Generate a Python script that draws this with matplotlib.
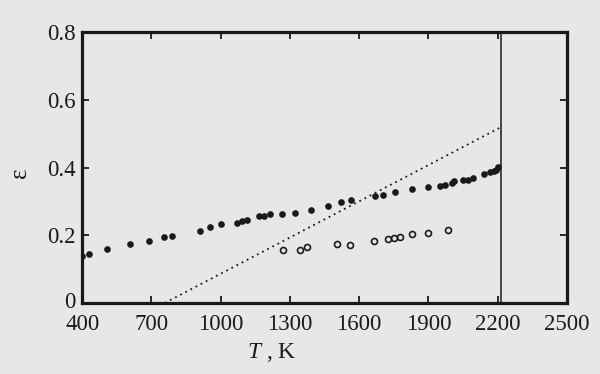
import matplotlib
matplotlib.use('Agg')
import matplotlib.pyplot as plt
import matplotlib.transforms as mtransforms

# filled points
T_filled = [400, 431, 508, 607, 688, 754, 791, 910, 955, 1001, 1071, 1094, 1115,
            1167, 1188, 1213, 1264, 1322, 1390, 1465, 1523, 1566, 1668, 1701, 1756,
            1829, 1900, 1952, 1970, 2000, 2011, 2051, 2069, 2094, 2140, 2168, 2185,
            2193, 2200]
eps_filled = [0.138, 0.145, 0.158, 0.174, 0.184, 0.194, 0.197, 0.212, 0.224, 0.233,
              0.237, 0.242, 0.246, 0.257, 0.257, 0.262, 0.264, 0.266, 0.276, 0.286,
              0.297, 0.305, 0.315, 0.319, 0.329, 0.337, 0.342, 0.346, 0.348, 0.354,
              0.359, 0.363, 0.363, 0.368, 0.382, 0.386, 0.389, 0.394, 0.401]

# open points
T_open = [1269, 1342, 1375, 1503, 1559, 1665, 1725, 1750, 1776, 1829, 1899, 1983]
eps_open = [0.155, 0.156, 0.164, 0.175, 0.170, 0.183, 0.189, 0.192, 0.196, 0.203,
            0.208, 0.215]

# dotted line and melting point
line_T = [758, 2207]
line_eps = [0, 0.517]
T_melt = 2214

x_ticks = [400, 700, 1000, 1300, 1600, 1900, 2200, 2500]
y_ticks = [0, 0.2, 0.4, 0.6, 0.8]
y_ticklabels = ['0', '0.2', '0.4', '0.6', '0.8']

bg = '#e7e7e9'
ink = '#1a1a1a'

plt.rcParams['font.family'] = 'Liberation Serif'
plt.rcParams['mathtext.fontset'] = 'custom'
plt.rcParams['mathtext.rm'] = 'Liberation Serif'
plt.rcParams['mathtext.it'] = 'Liberation Serif:italic'

fig = plt.figure(figsize=(6, 3.74), dpi=100, facecolor=bg)
ax = fig.add_axes([0.137, 0.19, 0.808, 0.724], facecolor=bg)

ax.plot(line_T, line_eps, color=ink, linestyle=(0, (1, 2.2)), linewidth=1.3)
ax.axvline(T_melt, color=ink, linewidth=1.1)
ax.plot(T_filled, eps_filled, 'o', color=ink, markersize=4.8, markeredgewidth=0)
ax.plot(T_open, eps_open, 'o', markerfacecolor='none', markeredgecolor=ink,
        markersize=4.3, markeredgewidth=1.2)

ax.set_xlim(400, 2500)
ax.set_ylim(0, 0.8)
ax.set_xticks(x_ticks)
ax.set_yticks(y_ticks)
ax.set_yticklabels(y_ticklabels)

for s in ax.spines.values():
    s.set_linewidth(2.3)
    s.set_color(ink)
ax.tick_params(direction='in', length=5, width=1.3, colors=ink, labelsize=16.5,
               top=True, right=True)
ax.tick_params(axis='x', pad=8)
ax.tick_params(axis='y', pad=5)

# nudge the "0" label up a little so it clears "400"
zero_lbl = ax.get_yticklabels()[0]
zero_lbl.set_transform(zero_lbl.get_transform() +
                       mtransforms.ScaledTranslation(0, 2 / 72, fig.dpi_scale_trans))

ax.set_xlabel(r'$T$ , K', fontsize=17, color=ink)
ax.xaxis.set_label_coords(0.392, -0.14)
ax.set_ylabel('ε', fontsize=18, color=ink)
ax.yaxis.set_label_coords(-0.105, 0.48)

fig.savefig('out.png', dpi=100, facecolor=bg)
